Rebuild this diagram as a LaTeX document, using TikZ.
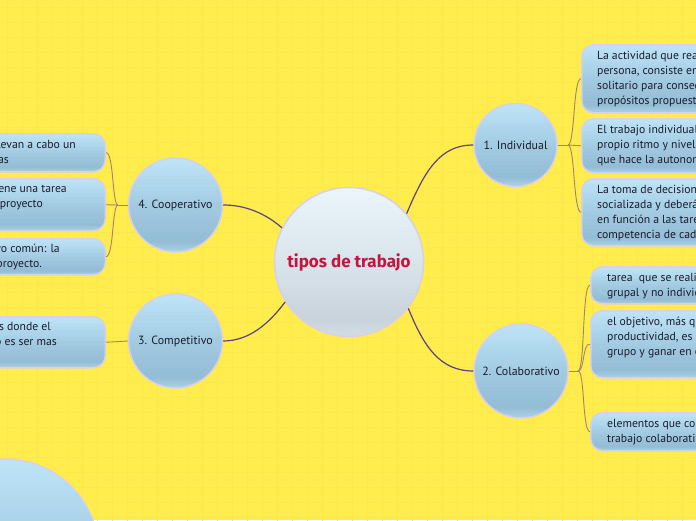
\documentclass[tikz,border=0pt]{standalone}
\usepackage{fontspec}
\setmainfont{PT Sans}
\newfontfamily\titlefont{Fira Sans}
\definecolor{bg}{HTML}{FFED4D}
\definecolor{gridc}{HTML}{FBE84C}
\definecolor{rim}{HTML}{D8CFEA}
\definecolor{mainline}{HTML}{5E3F86}
\definecolor{subline}{HTML}{A3846E}
\definecolor{ink}{HTML}{1B1B2B}
\definecolor{titlec}{HTML}{C8143C}
\definecolor{n0}{HTML}{AAD3E8}
\definecolor{n1}{HTML}{93BCD5}
\definecolor{n2}{HTML}{A2CBE2}
\definecolor{n3}{HTML}{BEE4F7}
\definecolor{c0}{HTML}{D2DCE3}
\definecolor{c1}{HTML}{C8D3DB}
\definecolor{c2}{HTML}{D9E4EC}
\definecolor{c3}{HTML}{EBF5FB}
\pgfdeclareverticalshading{nodeshade}{100bp}{color(0bp)=(n0); color(25bp)=(n0); color(31bp)=(n1); color(50bp)=(n2); color(75bp)=(n3); color(100bp)=(n3)}
\pgfdeclareverticalshading{centreshade}{100bp}{color(0bp)=(c0); color(25bp)=(c0); color(31bp)=(c1); color(50bp)=(c2); color(75bp)=(c3); color(100bp)=(c3)}
\begin{document}
\begin{tikzpicture}[x=1pt,y=-1pt,
  bubble/.style={circle, draw=rim, line width=1.5pt, shading=nodeshade, inner sep=0pt, text=ink, font=\fontsize{11.9}{13}\selectfont},
  card/.style={rectangle, rounded corners=12pt, draw=rim, line width=1.5pt, shading=nodeshade, inner sep=0pt, minimum width=250pt},
  lines/.style={inner sep=0pt, text=ink, align=left, font=\fontsize{11.7}{15}\selectfont},
  mainlink/.style={draw=mainline, line width=1.2pt},
  sublink/.style={draw=subline, line width=0.9pt}]
\useasboundingbox (0,0) rectangle (696,520);
\clip (0,0) rectangle (696,520);
\fill[bg] (0,0) rectangle (696,520);
\draw[gridc, line width=0.5pt, shift={(7,7)}] (-15,-15) grid[step=15pt] (705,525);

% main nodes
\node[circle, draw=rim, line width=1.5pt, shading=centreshade, minimum size=149pt, inner sep=0pt,
      text=titlec, font=\titlefont\fontsize{17}{20}\selectfont\bfseries] (ctr) at (349,262) {tipos de trabajo};
\node[bubble, minimum size=83pt] (ind) at (515.5,145) {1. Individual};
\node[bubble, minimum size=94pt] (col) at (521,371) {2. Colaborativo};
\node[bubble, minimum size=94pt] (coop) at (175.5,205) {4. Cooperativo};
\node[bubble, minimum size=94pt] (comp) at (175.5,341) {3. Competitivo};
\node[bubble, minimum size=188pt] (more) at (5,553) {};

% right cards, group 1
\node[card, anchor=north west, minimum height=68pt] (bA) at (581,44) {};
\node[card, anchor=north west, minimum height=54pt] (bB) at (581,118) {};
\node[card, anchor=north west, minimum height=67pt] (bC) at (581,178) {};
\node[lines, anchor=north west] (tA) at (597,49) {\rule{0pt}{10pt}La actividad que realiza una\\persona, consiste en trabajar en\\solitario para conseguir los\\propósitos propuestos.};
\node[lines, anchor=north west] (tB) at (597,123) {\rule{0pt}{10pt}El trabajo individualiza el\\propio ritmo y nivel de cada uno,\\que hace la autonomía};
\node[lines, anchor=north west] (tC) at (597,183) {\rule{0pt}{10pt}La toma de decisiones debe ser\\socializada y deberá dividirse\\en función a las tareas y\\competencia de cada miembro.};

% right cards, group 2
\node[card, anchor=north west, minimum height=37pt] (bD) at (590,266) {};
\node[card, anchor=north west, minimum height=67pt] (bE) at (590,310) {};
\node[card, anchor=north west, minimum height=38pt] (bF) at (590,412) {};
\node[lines, anchor=north west] (tD) at (607,271) {\rule{0pt}{10pt}tarea\ \ que se realiza de forma\\grupal y no individual};
\node[lines, anchor=north west] (tE) at (607,315) {\rule{0pt}{10pt}el objetivo, más que la\\productividad, es el de\\grupo y ganar en conocimiento};
\node[lines, anchor=north west] (tF) at (607,417) {\rule{0pt}{10pt}elementos que conforman el\\trabajo colaborativo};

% left cards
\node[card, anchor=north east, minimum height=38pt] (bG) at (106,133) {};
\node[card, anchor=north east, minimum height=52pt] (bH) at (106,178) {};
\node[card, anchor=north east, minimum height=36pt] (bI) at (106,238) {};
\node[card, anchor=north east, minimum height=51pt] (bJ) at (106,316) {};
\node[lines, anchor=base east] (g1) at (76,148) {Los integrantes llevan a cabo un};
\node[lines, anchor=base east] (g2) at (9,163) {conjunto de tareas};
\node[lines, anchor=base east] (h1) at (67,192) {Cada integrante tiene una tarea};
\node[lines, anchor=base east] (h2) at (43,207) {dentro del proyecto};
\node[lines, anchor=base east] (i1) at (60,252) {Se trabaja con un objetivo común: la};
\node[lines, anchor=base east] (i2) at (42,267) {realización del proyecto.};
\node[lines, anchor=base east] (j1t) at (51,330) {Son actividades donde el};
\node[lines, anchor=base east] (j2t) at (57,345) {objetivo es ser mas};

% main connectors
\draw[mainlink] (ctr.40) .. controls (425,170) and (440,145) .. (ind.west);
\draw[mainlink] (ctr.-38) .. controls (424,347) and (440,371) .. (col.west);
\draw[mainlink] (ctr.153) .. controls (265,213) and (245,205) .. (coop.east);
\draw[mainlink] (ctr.212) .. controls (268,325) and (248,341) .. (comp.east);

% sub connectors
\coordinate (ja) at (568,145);
\draw[sublink] (ind.east) -- (ja);
\draw[sublink] (ja) .. controls (575,145) and (573,78) .. (bA.west);
\draw[sublink] (ja) -- (bB.west);
\draw[sublink] (ja) .. controls (575,145) and (573,211) .. (bC.west);

\coordinate (jb) at (578,371);
\draw[sublink] (col.east) -- (jb);
\draw[sublink] (jb) .. controls (585,371) and (582,284) .. (bD.west);
\draw[sublink] (jb) .. controls (585,371) and (582,343) .. (bE.west);
\draw[sublink] (jb) .. controls (585,371) and (582,431) .. (bF.west);

\coordinate (jc) at (118,205);
\draw[sublink] (coop.west) -- (jc);
\draw[sublink] (jc) .. controls (112,205) and (114,152) .. (bG.east);
\draw[sublink] (jc) -- (bH.east);
\draw[sublink] (jc) .. controls (112,205) and (114,256) .. (bI.east);

\draw[sublink] (comp.west) -- (bJ.east);
\end{tikzpicture}
\end{document}
